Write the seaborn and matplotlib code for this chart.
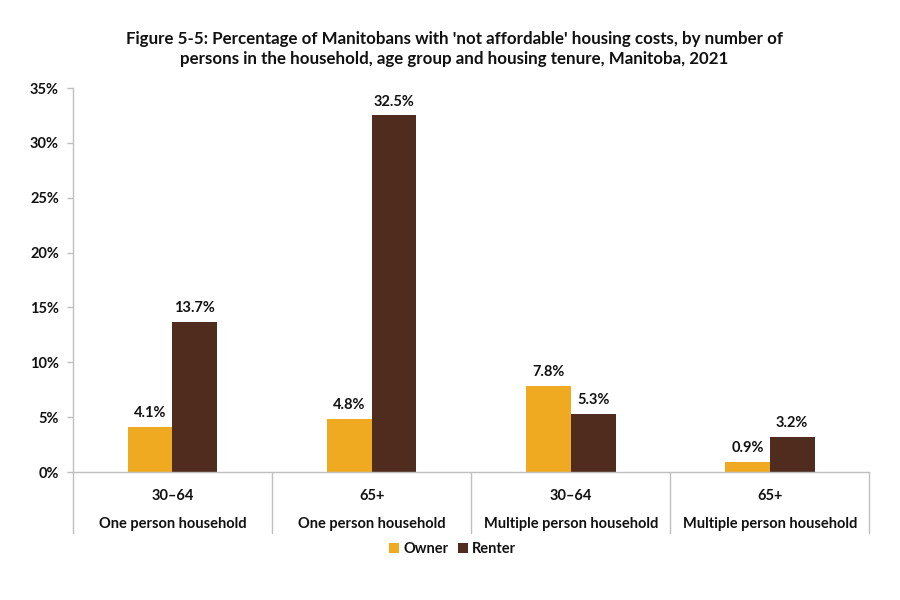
import matplotlib
matplotlib.use("Agg")
import matplotlib.pyplot as plt
import matplotlib.transforms as mtransforms
import seaborn as sns
import pandas as pd

# values
age_groups = ["30–64", "65+", "30–64", "65+"]
households = ["One person household", "One person household",
              "Multiple person household", "Multiple person household"]
owner = [4.1, 4.8, 7.8, 0.9]
renter = [13.7, 32.5, 5.3, 3.2]
tenures = ["Owner", "Renter"]
y_ticks = [0, 5, 10, 15, 20, 25, 30, 35]

cats = [f"{a}|{h}" for a, h in zip(age_groups, households)]
df = pd.DataFrame({
    "cat": cats * 2,
    "tenure": ["Owner"] * 4 + ["Renter"] * 4,
    "value": owner + renter,
})

sns.set_theme(style="white")
plt.rcParams["font.family"] = ["Lato", "DejaVu Sans"]
plt.rcParams["font.weight"] = "bold"

fig = plt.figure(figsize=(9, 6), dpi=100)
ax = fig.add_axes([0.081, 0.2133, 0.885, 0.64])

palette = {"Owner": "#EFAA22", "Renter": "#502C1F"}
sns.barplot(data=df, x="cat", y="value", hue="tenure", hue_order=tenures,
            order=cats, palette=palette, width=0.45, gap=0, saturation=1,
            errorbar=None, ax=ax, legend=True, edgecolor="none", linewidth=0)

for cont in ax.containers:
    ax.bar_label(cont, labels=[f"{v:.1f}%" for v in cont.datavalues],
                 padding=5, fontsize=10.5, fontweight="bold", color="#111111")

ax.set_xlim(-0.5, 3.5)
ax.set_ylim(0, 35)
ax.set_yticks(y_ticks)
ax.set_yticklabels([f"{t}%" for t in y_ticks], fontsize=10.5, fontweight="bold",
                   color="#111111")
ax.tick_params(axis="y", direction="out", length=4, color="#BFBFBF", width=1, pad=6,
               left=True)
ax.set_xticks(range(4))
ax.set_xticklabels(age_groups, fontsize=10.5, fontweight="bold", color="#111111")
ax.tick_params(axis="x", length=0, pad=12)
ax.set_xlabel("")
ax.set_ylabel("")

for s in ["top", "right"]:
    ax.spines[s].set_visible(False)
for s in ["left", "bottom"]:
    ax.spines[s].set_color("#BFBFBF")
    ax.spines[s].set_linewidth(1)

trans = mtransforms.blended_transform_factory(ax.transData, ax.transAxes)
for i, h in enumerate(households):
    ax.text(i, -0.135, h, transform=trans, ha="center", va="center",
            fontsize=10.5, fontweight="bold", color="#111111")
for x in [-0.5, 0.5, 1.5, 2.5, 3.5]:
    ax.plot([x, x], [0, -0.159], transform=trans, color="#BFBFBF", lw=1,
            clip_on=False)

ax.legend_.remove()
handles, labels = ax.get_legend_handles_labels()
leg = fig.legend(handles[:2], labels[:2], loc="center", bbox_to_anchor=(0.503, 0.085),
                 ncol=2, frameon=False, fontsize=10.5,
                 handlelength=0.7, handleheight=0.7, handletextpad=0.3,
                 columnspacing=0.6)
for t in leg.get_texts():
    t.set_fontweight("bold")
    t.set_color("#111111")

fig.text(0.505, 0.918,
         "Figure 5-5: Percentage of Manitobans with 'not affordable' housing costs, by number of\n"
         "persons in the household, age group and housing tenure, Manitoba, 2021",
         ha="center", va="center", fontsize=12.2, fontweight="bold", color="#111111",
         linespacing=1.35)

fig.savefig("out.png", dpi=100)
